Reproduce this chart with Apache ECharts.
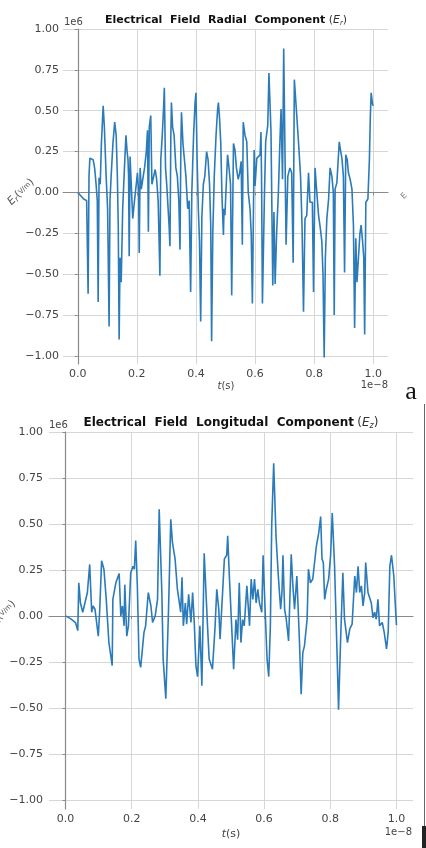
<!DOCTYPE html>
<html>
<head>
<meta charset="utf-8">
<script src="https://cdn.jsdelivr.net/npm/echarts@6/dist/echarts.min.js"></script>
<style>
  html, body { margin: 0; padding: 0; background: #fff; }
  #chart { width: 426px; height: 848px; }
</style>
</head>
<body>
<div id="chart"></div>
<script>
// time in units of 1e-8 s, field in units of 1e6 V/m
const erTime = [0.000, 0.010, 0.020, 0.030, 0.033, 0.035, 0.038, 0.041, 0.047, 0.052, 0.057, 0.062, 0.066, 0.069, 0.072, 0.076, 0.080, 0.086, 0.090, 0.096,
  0.101, 0.106, 0.109, 0.113, 0.119, 0.125, 0.130, 0.134, 0.137, 0.140, 0.143, 0.147, 0.152, 0.158, 0.163, 0.167, 0.170, 0.172, 0.174, 0.177,
  0.181, 0.186, 0.192, 0.198, 0.202, 0.206, 0.208, 0.211, 0.215, 0.220, 0.226, 0.232, 0.236, 0.239, 0.242, 0.247, 0.251, 0.257, 0.262, 0.267,
  0.272, 0.278, 0.281, 0.286, 0.290, 0.293, 0.297, 0.301, 0.305, 0.309, 0.312, 0.315, 0.317, 0.321, 0.326, 0.332, 0.337, 0.342, 0.346, 0.349,
  0.351, 0.356, 0.361, 0.366, 0.372, 0.377, 0.382, 0.386, 0.392, 0.397, 0.400, 0.404, 0.408, 0.412, 0.416, 0.420, 0.425, 0.430, 0.436, 0.441,
  0.446, 0.450, 0.453, 0.457, 0.462, 0.468, 0.473, 0.476, 0.480, 0.484, 0.488, 0.493, 0.495, 0.498, 0.507, 0.512, 0.517, 0.521, 0.527, 0.532,
  0.537, 0.543, 0.548, 0.553, 0.557, 0.560, 0.566, 0.572, 0.577, 0.583, 0.587, 0.591, 0.597, 0.600, 0.606, 0.612, 0.617, 0.620, 0.622, 0.625,
  0.632, 0.636, 0.643, 0.647, 0.654, 0.660, 0.664, 0.668, 0.673, 0.679, 0.684, 0.688, 0.693, 0.697, 0.701, 0.705, 0.711, 0.718, 0.724, 0.729,
  0.733, 0.739, 0.747, 0.754, 0.759, 0.764, 0.769, 0.775, 0.781, 0.786, 0.794, 0.798, 0.803, 0.809, 0.815, 0.821, 0.826, 0.830, 0.834, 0.838,
  0.843, 0.849, 0.854, 0.860, 0.865, 0.868, 0.871, 0.877, 0.885, 0.890, 0.894, 0.899, 0.903, 0.907, 0.912, 0.916, 0.922, 0.928, 0.933, 0.937,
  0.941, 0.945, 0.950, 0.955, 0.959, 0.964, 0.968, 0.971, 0.975, 0.982, 0.987, 0.990, 0.993, 0.997, 0.999];
const erField = [0.00, -0.02, -0.04, -0.05, -0.04, -0.62, 0.10, 0.21, 0.22, 0.20, 0.15, 0.05, -0.05, -0.67, 0.09, 0.05, 0.30, 0.53, 0.40, 0.10,
  -0.10, -0.82, -0.05, 0.10, 0.30, 0.43, 0.35, 0.10, -0.20, -0.90, -0.40, -0.55, -0.10, 0.15, 0.35, 0.25, 0.20, 0.10, -0.39, 0.22,
  0.05, -0.16, -0.05, 0.05, 0.12, 0.00, -0.37, 0.15, 0.02, 0.08, 0.15, 0.25, 0.38, -0.24, 0.40, 0.47, 0.05, 0.10, 0.14, 0.08,
  -0.05, -0.51, 0.20, 0.35, 0.50, 0.64, 0.15, 0.05, 0.05, -0.20, -0.33, 0.35, 0.55, 0.40, 0.35, 0.15, 0.10, -0.05, -0.35, 0.30,
  0.49, 0.30, 0.20, 0.10, -0.10, -0.05, -0.61, 0.00, 0.35, 0.55, 0.61, 0.20, -0.10, -0.30, -0.79, -0.15, 0.05, 0.10, 0.25, 0.20,
  0.05, -0.20, -0.91, -0.25, 0.10, 0.35, 0.50, 0.55, 0.45, 0.30, -0.02, -0.26, -0.10, -0.14, 0.23, 0.15, 0.05, -0.63, 0.30, 0.26,
  0.15, 0.08, 0.12, 0.19, -0.32, 0.43, 0.35, 0.31, 0.00, -0.10, -0.25, -0.68, 0.26, 0.04, 0.21, 0.20, 0.23, 0.37, 0.10, -0.68,
  0.00, 0.31, 0.41, 0.73, 0.37, -0.57, -0.12, -0.56, -0.25, 0.00, 0.30, 0.51, 0.08, 0.88, 0.30, -0.32, 0.10, 0.15, 0.12, -0.43,
  0.69, 0.53, 0.31, 0.10, -0.20, -0.73, -0.16, -0.14, 0.12, -0.06, -0.06, -0.61, 0.15, 0.00, -0.14, -0.22, -0.30, -0.50, -1.01, -0.40,
  -0.16, -0.04, 0.15, 0.10, 0.00, -0.75, 0.02, 0.06, 0.31, 0.25, 0.21, 0.10, -0.49, 0.23, 0.20, 0.12, 0.08, 0.02, -0.20, -0.83,
  -0.28, -0.55, -0.40, -0.25, -0.20, -0.30, -0.40, -0.87, -0.06, -0.04, 0.20, 0.45, 0.61, 0.55, 0.53];

const ezTime = [0.000, 0.015, 0.030, 0.037, 0.040, 0.045, 0.052, 0.066, 0.073, 0.079, 0.083, 0.089, 0.099, 0.103, 0.109, 0.116, 0.123, 0.131, 0.141, 0.143,
  0.152, 0.162, 0.167, 0.172, 0.177, 0.179, 0.185, 0.190, 0.197, 0.204, 0.208, 0.212, 0.217, 0.222, 0.227, 0.237, 0.242, 0.250, 0.258, 0.263,
  0.271, 0.278, 0.283, 0.291, 0.295, 0.303, 0.311, 0.318, 0.323, 0.331, 0.338, 0.348, 0.352, 0.356, 0.362, 0.366, 0.372, 0.379, 0.384, 0.389,
  0.394, 0.399, 0.406, 0.412, 0.419, 0.429, 0.434, 0.444, 0.452, 0.457, 0.463, 0.467, 0.480, 0.487, 0.490, 0.495, 0.508, 0.515, 0.520, 0.525,
  0.530, 0.535, 0.540, 0.548, 0.556, 0.561, 0.566, 0.571, 0.576, 0.581, 0.586, 0.593, 0.597, 0.603, 0.609, 0.614, 0.619, 0.623, 0.629, 0.636,
  0.643, 0.650, 0.654, 0.657, 0.662, 0.667, 0.674, 0.682, 0.687, 0.692, 0.699, 0.707, 0.712, 0.717, 0.722, 0.730, 0.734, 0.740, 0.747, 0.758,
  0.765, 0.771, 0.775, 0.779, 0.783, 0.788, 0.795, 0.801, 0.806, 0.813, 0.821, 0.825, 0.831, 0.838, 0.843, 0.852, 0.859, 0.866, 0.874, 0.879,
  0.884, 0.889, 0.894, 0.899, 0.904, 0.907, 0.914, 0.924, 0.929, 0.934, 0.939, 0.944, 0.949, 0.957, 0.963, 0.970, 0.975, 0.980, 0.985, 0.992,
  0.996, 1.000];
const ezField = [0.00, -0.015, -0.036, -0.08, 0.18, 0.07, 0.02, 0.127, 0.28, 0.02, 0.054, 0.036, -0.11, 0.02, 0.30, 0.254, 0.09, -0.145, -0.27, 0.09,
  0.18, 0.23, 0.00, 0.054, -0.054, 0.17, -0.11, -0.054, 0.235, 0.27, 0.254, 0.41, 0.163, -0.235, -0.28, -0.09, -0.054, 0.127, 0.054, -0.036,
  0.00, 0.09, 0.58, 0.127, -0.235, -0.45, 0.02, 0.525, 0.40, 0.31, 0.145, 0.02, 0.21, -0.054, 0.07, -0.045, 0.118, -0.036, 0.127, -0.036,
  -0.27, -0.33, -0.054, -0.38, 0.34, -0.054, -0.235, -0.29, -0.054, 0.145, 0.036, -0.127, 0.31, 0.33, 0.435, 0.217, -0.29, -0.02, -0.13, 0.18,
  -0.145, -0.02, -0.054, 0.163, -0.054, 0.20, 0.09, 0.20, 0.07, 0.145, 0.07, 0.02, 0.33, 0.036, -0.235, -0.33, -0.054, 0.49, 0.83, 0.435,
  0.217, 0.036, 0.127, 0.33, 0.036, -0.018, -0.136, 0.335, 0.163, 0.036, 0.217, -0.145, -0.426, -0.20, -0.163, -0.018, 0.254, 0.18, 0.20, 0.38,
  0.45, 0.54, 0.31, 0.29, 0.09, 0.145, 0.20, 0.33, 0.56, 0.27, -0.235, -0.51, -0.145, 0.235, -0.018, -0.145, -0.07, -0.045, 0.217, 0.127,
  0.27, 0.127, 0.163, 0.054, 0.127, 0.29, 0.127, 0.07, -0.01, 0.02, -0.018, 0.09, -0.054, -0.036, -0.09, -0.18, -0.09, 0.27, 0.33, 0.217,
  0.08, -0.05];

const xTicks = [0, 0.2, 0.4, 0.6, 0.8, 1.0];
const yTicks = [-1, -0.75, -0.5, -0.25, 0, 0.25, 0.5, 0.75, 1];

const LINE = '#2b7bba';
const GRID_C = '#d6d6d6';
const SPINE_C = '#8a8a8a';
const TXT = '#444';
const FONT = 'DejaVu Sans';

const zip = (t, v) => t.map((x, i) => [x, v[i]]);
const fmtY = v => v.toFixed(2).replace('-', '\u2212');
const fmtX = v => v.toFixed(1);

function xAxisFor(gridIndex, margin) {
    return {
        type: 'value', gridIndex, min: -0.05, max: 1.05,
        axisLine: { show: true, lineStyle: { color: SPINE_C, width: 1.2 } },
        axisTick: { show: true, length: 3, customValues: xTicks, lineStyle: { color: SPINE_C } },
        axisLabel: { customValues: xTicks, formatter: fmtX, color: TXT, fontSize: 11, fontFamily: FONT, margin },
        splitLine: { show: true, lineStyle: { color: GRID_C, width: 1 } }
    };
}
function yAxisFor(gridIndex, margin) {
    return {
        type: 'value', gridIndex, min: -1.05, max: 1.0,
        axisLine: { show: true, lineStyle: { color: SPINE_C, width: 1.2 } },
        axisTick: { show: true, length: 3, customValues: yTicks, lineStyle: { color: SPINE_C } },
        axisLabel: { customValues: yTicks, formatter: fmtY, color: TXT, fontSize: 11, fontFamily: FONT, margin },
        splitLine: { show: true, lineStyle: { color: GRID_C, width: 1 } }
    };
}

const titleRich = size => ({
    b: { fontFamily: FONT, fontWeight: 'bold', fontSize: size, fill: '#111' },
    m: { fontFamily: FONT, fontSize: size, fill: '#333' },
    i: { fontFamily: FONT, fontStyle: 'italic', fontSize: size, fill: '#333' },
    s: { fontFamily: FONT, fontStyle: 'italic', fontSize: size - 4, fill: '#333', verticalAlign: 'bottom', padding: [6, 0, 0, 0] }
});
const nameRich = {
    i: { fontFamily: FONT, fontStyle: 'italic', fontSize: 11, fill: '#555' },
    s: { fontFamily: FONT, fontStyle: 'italic', fontSize: 8, fill: '#555', padding: [5, 0, 0, 0] },
    n: { fontFamily: FONT, fontSize: 11, fill: '#555' },
    f: { fontFamily: FONT, fontSize: 7, fill: '#555' }
};

const chart = echarts.init(document.getElementById('chart'), null, { renderer: 'canvas' });

const option = {
    backgroundColor: '#fff',
    animation: false,
    grid: [
        { left: 63, top: 29, width: 325, height: 335 },
        { left: 49, top: 432, width: 364, height: 377 }
    ],
    xAxis: [xAxisFor(0, 5), xAxisFor(1, 5)],
    yAxis: [yAxisFor(0, 4), yAxisFor(1, 6)],
    series: [
        {
            type: 'line', xAxisIndex: 0, yAxisIndex: 0, data: zip(erTime, erField),
            showSymbol: false, lineStyle: { color: LINE, width: 1.6 }, itemStyle: { color: LINE }
        },
        {
            type: 'line', xAxisIndex: 1, yAxisIndex: 1, data: zip(ezTime, ezField),
            showSymbol: false, lineStyle: { color: LINE, width: 1.6 }, itemStyle: { color: LINE }
        }
    ],
    graphic: [
        // titles
        { type: 'text', x: 226, y: 20, style: {
            text: '{b|Electrical  Field  Radial  Component} {m|(}{i|E}{s|r}{m|)}',
            rich: titleRich(11), align: 'center', verticalAlign: 'middle' } },
        { type: 'text', x: 231, y: 423, style: {
            text: '{b|Electrical  Field  Longitudal  Component} {m|(}{i|E}{s|z}{m|)}',
            rich: titleRich(12), align: 'center', verticalAlign: 'middle' } },
        // offset texts
        { type: 'text', x: 64, y: 22, style: { text: '1e6', fontFamily: FONT, fontSize: 10, fill: TXT, verticalAlign: 'middle' } },
        { type: 'text', x: 49, y: 425, style: { text: '1e6', fontFamily: FONT, fontSize: 10, fill: TXT, verticalAlign: 'middle' } },
        { type: 'text', x: 388, y: 385, style: { text: '1e\u22128', fontFamily: FONT, fontSize: 10, fill: TXT, align: 'right', verticalAlign: 'middle' } },
        { type: 'text', x: 412, y: 832, style: { text: '1e\u22128', fontFamily: FONT, fontSize: 10, fill: TXT, align: 'right', verticalAlign: 'middle' } },
        // x axis names
        { type: 'text', x: 226, y: 386, style: { text: '{i|t}{n|(s)}', rich: {
            i: { fontFamily: FONT, fontStyle: 'italic', fontSize: 10, fill: TXT }, n: { fontFamily: FONT, fontSize: 10, fill: TXT } },
            align: 'center', verticalAlign: 'middle' } },
        { type: 'text', x: 231, y: 834, style: { text: '{i|t}{n|(s)}', rich: {
            i: { fontFamily: FONT, fontStyle: 'italic', fontSize: 11, fill: TXT }, n: { fontFamily: FONT, fontSize: 11, fill: TXT } },
            align: 'center', verticalAlign: 'middle' } },
        // y axis names (rotated)
        { type: 'text', x: 21, y: 192, rotation: Math.PI / 4, style: {
            text: '{i|E}{s|r}{n|(}{f|V/m}{n|)}', rich: nameRich, align: 'center', verticalAlign: 'middle' } },
        { type: 'text', x: 2, y: 614, rotation: Math.PI / 4, style: {
            text: '{i|E}{s|z}{n|(}{f|V/m}{n|)}', rich: nameRich, align: 'center', verticalAlign: 'middle' } },
        // neighbouring panel remnants
        { type: 'text', x: 404, y: 196, rotation: Math.PI / 4, style: { text: 'E', fontFamily: FONT, fontSize: 8, fill: '#777', align: 'center', verticalAlign: 'middle' } },
        { type: 'text', x: 411, y: 392, style: { text: 'a', fontFamily: 'Liberation Serif', fontSize: 26, fill: '#111', align: 'center', verticalAlign: 'middle' } },
        { type: 'line', shape: { x1: 424.5, y1: 404, x2: 424.5, y2: 848 }, style: { stroke: '#666', lineWidth: 1 } },
        { type: 'rect', shape: { x: 422, y: 826, width: 4, height: 22 }, style: { fill: '#222' } }
    ]
};

chart.setOption(option, true);
</script>
</body>
</html>
